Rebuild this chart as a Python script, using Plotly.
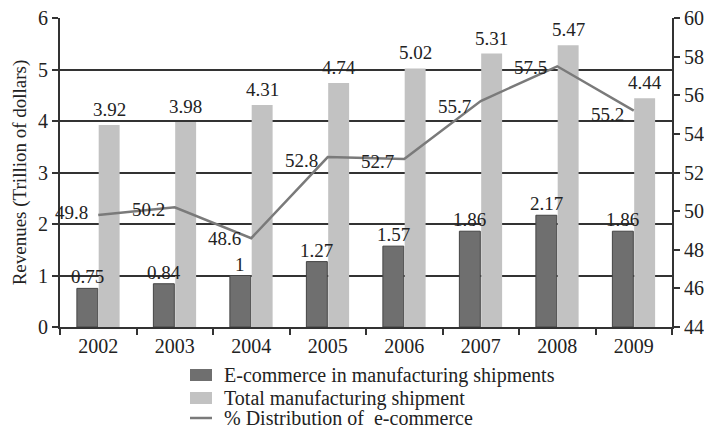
import plotly.graph_objects as go

# Data
years = ["2002", "2003", "2004", "2005", "2006", "2007", "2008", "2009"]
ecommerce = [0.75, 0.84, 1, 1.27, 1.57, 1.86, 2.17, 1.86]
total_shipments = [3.92, 3.98, 4.31, 4.74, 5.02, 5.31, 5.47, 4.44]
pct_ecommerce = [49.8, 50.2, 48.6, 52.8, 52.7, 55.7, 57.5, 55.2]
# vertical nudge (px) of each percentage label
pct_label_lift = [2, -2, 0, -3, -3, -5, -1, -4]

series_names = ["E-commerce in manufacturing shipments",
                "Total manufacturing shipment",
                "% Distribution of  e-commerce"]

FONT = "Liberation Serif"
INK = "#222222"
DARK = "#6f6f6f"
LIGHT = "#c2c2c2"
LINE = "#7a7a7a"
LABEL_FONT = dict(family=FONT, size=19, color=INK)

W, H = 704, 429
ML, MR, MT, MB = 60, 32, 18, 102
PW, PH = W - ML - MR, H - MT - MB
BARGAP = 0.43


def px_x(x):
    return (x - ML) / PW


def px_y(y):
    return (H - MB - y) / PH


fig = go.Figure()

fig.add_trace(go.Bar(
    x=years, y=ecommerce, name=series_names[0],
    marker=dict(color=DARK, line=dict(color="#454545", width=1)),
))
fig.add_trace(go.Bar(
    x=years, y=total_shipments, name=series_names[1],
    marker=dict(color=LIGHT, line=dict(width=0)),
))
fig.add_trace(go.Scatter(
    x=years, y=pct_ecommerce, yaxis="y2", name=series_names[2],
    mode="lines", line=dict(color=LINE, width=2.5),
))

# value labels above each bar (drawn on top so neighbours never hide them)
half = (1 - BARGAP) / 4
for i, (a, b) in enumerate(zip(ecommerce, total_shipments)):
    fig.add_annotation(x=i - half, y=a, xref="x", yref="y", text=f"{a:g}",
                       showarrow=False, yanchor="bottom", yshift=-1,
                       font=LABEL_FONT)
    fig.add_annotation(x=i + half, y=b, xref="x", yref="y", text=f"{b:g}",
                       showarrow=False, yanchor="bottom", yshift=3,
                       font=LABEL_FONT)

# percentage labels sit just left of each point on the line
for i, (v, lift) in enumerate(zip(pct_ecommerce, pct_label_lift)):
    fig.add_annotation(
        x=i, y=v, xref="x", yref="y2", text=f"{v:g}", showarrow=False,
        xanchor="right", yanchor="middle", xshift=-8, yshift=lift,
        font=LABEL_FONT,
    )

# legend below the axis: swatches plus labels
row_y = [375, 398, 418]
sw_x0, sw_x1, txt_x = 190, 212, 222
for k, (name, ry) in enumerate(zip(series_names, row_y)):
    if k < 2:
        fig.add_shape(
            type="rect", xref="paper", yref="paper",
            x0=px_x(sw_x0), x1=px_x(sw_x1),
            y0=px_y(ry + 6), y1=px_y(ry - 6),
            fillcolor=DARK if k == 0 else LIGHT, line=dict(width=0),
        )
    else:
        fig.add_shape(
            type="line", xref="paper", yref="paper",
            x0=px_x(sw_x0), x1=px_x(sw_x1), y0=px_y(ry), y1=px_y(ry),
            line=dict(color=LINE, width=2.5),
        )
    fig.add_annotation(
        x=px_x(txt_x), y=px_y(ry), xref="paper", yref="paper",
        text=name, showarrow=False, xanchor="left", yanchor="middle",
        font=dict(family=FONT, size=20, color=INK),
    )

fig.update_layout(
    width=W, height=H,
    margin=dict(l=ML, r=MR, t=MT, b=MB, autoexpand=False),
    paper_bgcolor="white", plot_bgcolor="white",
    font=dict(family=FONT, size=19, color=INK),
    barmode="group", bargap=BARGAP, bargroupgap=0.04,
    showlegend=False,
    xaxis=dict(
        type="category", range=[-0.5, len(years) - 0.5],
        showline=True, linecolor="#333333", linewidth=2,
        ticks="outside", tickson="boundaries", ticklen=6, tickwidth=2,
        tickcolor="#333333", tickfont=dict(family=FONT, size=20, color=INK),
        showgrid=False,
    ),
    yaxis=dict(
        range=[0, 6], dtick=1, showline=True, linecolor="#333333", linewidth=2,
        ticks="outside", ticklen=6, tickwidth=2, tickcolor="#333333",
        showgrid=True, gridcolor="#333333", gridwidth=2,
        zeroline=False, tickfont=dict(family=FONT, size=20, color=INK),
        title=dict(text="Revenues (Trillion of dollars)",
                   font=dict(family=FONT, size=19, color=INK), standoff=6),
    ),
    yaxis2=dict(
        range=[44, 60], dtick=2, overlaying="y", side="right",
        showline=True, linecolor="#333333", linewidth=2,
        ticks="outside", ticklen=6, tickwidth=2, tickcolor="#333333",
        showgrid=False, zeroline=False,
        tickfont=dict(family=FONT, size=20, color=INK),
    ),
)

fig.write_html("out.html")
